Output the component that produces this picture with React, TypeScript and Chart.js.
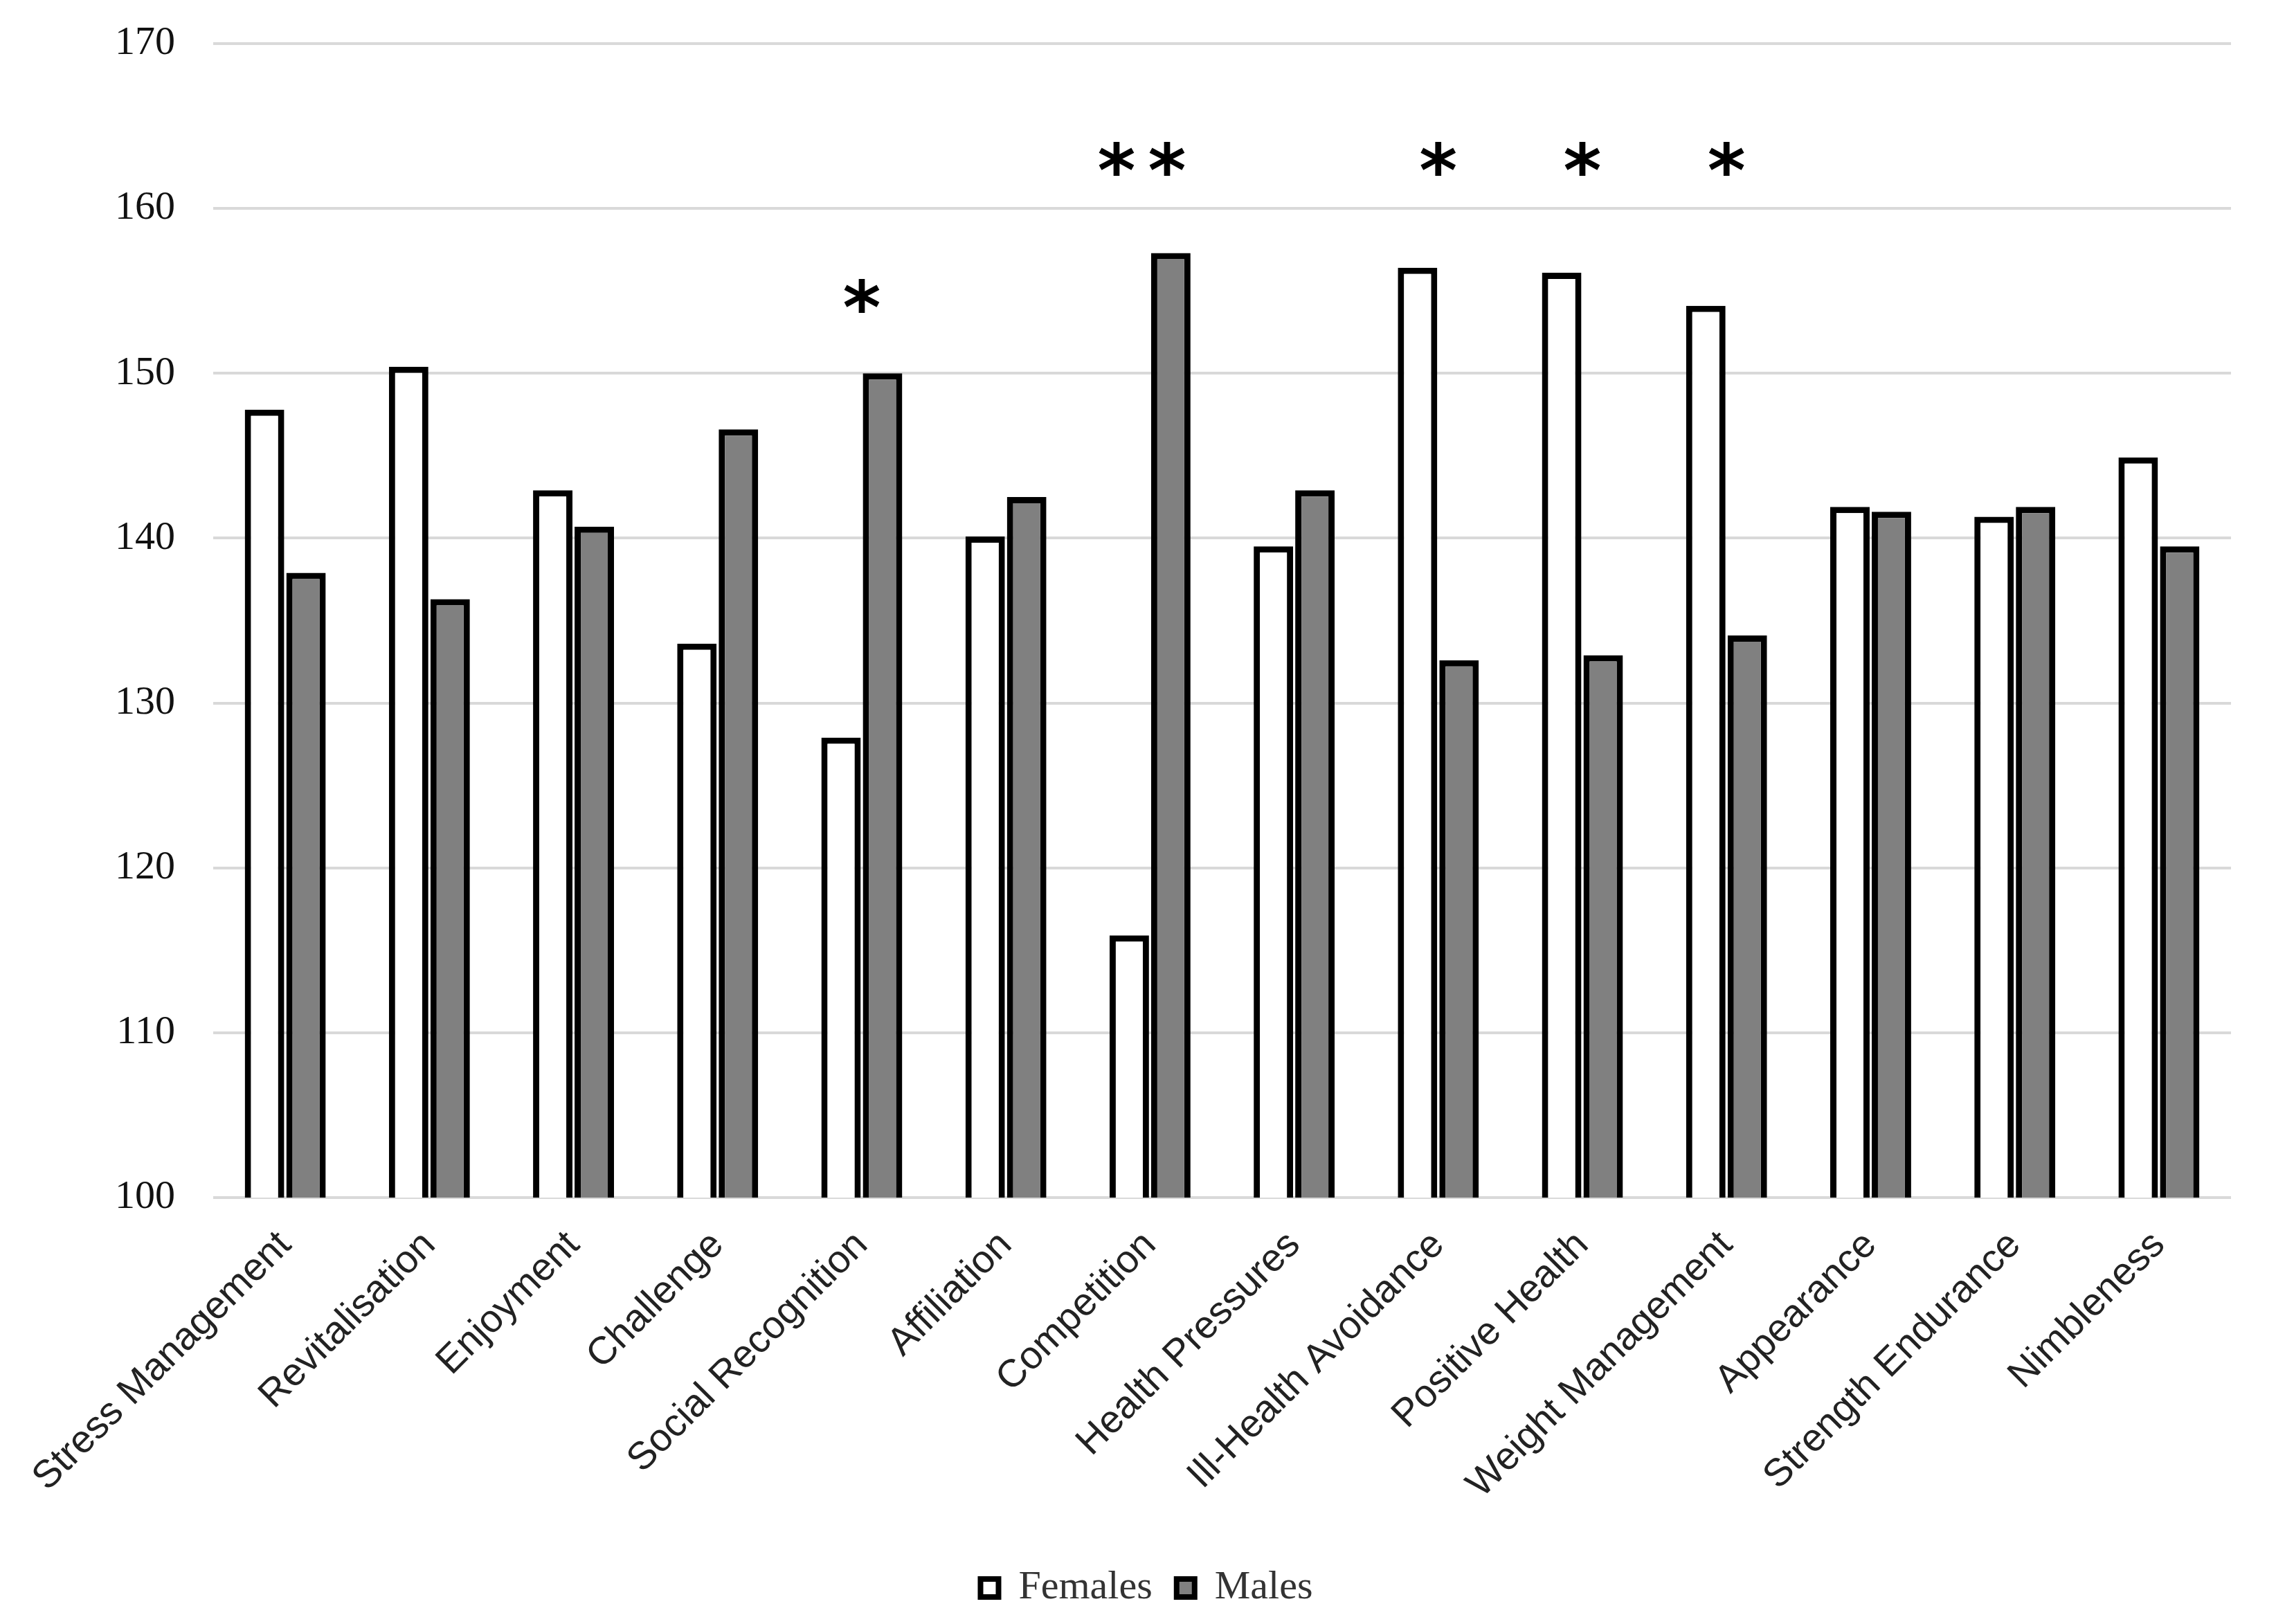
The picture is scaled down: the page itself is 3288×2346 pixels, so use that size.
import React, { useEffect, useRef } from "react";
import { Chart, registerables } from "chart.js";

Chart.register(...registerables);

const categories = [
  "Stress Management",
  "Revitalisation",
  "Enjoyment",
  "Challenge",
  "Social Recognition",
  "Affiliation",
  "Competition",
  "Health Pressures",
  "Ill-Health Avoidance",
  "Positive Health",
  "Weight Management",
  "Appearance",
  "Strength Endurance",
  "Nimbleness",
];

const females = [147.8, 150.4, 142.9, 133.6, 127.9, 140.1, 115.9, 139.5, 156.4, 156.1, 154.1, 141.9, 141.3, 144.9];
const males = [137.9, 136.3, 140.7, 146.6, 150.0, 142.5, 157.3, 142.9, 132.6, 132.9, 134.1, 141.6, 141.9, 139.5];

const significance = ["", "", "", "", "*", "", "**", "", "*", "*", "*", "", "", ""];
const significanceLevel = [null, null, null, null, 154.7, null, 163.0, null, 163.0, 163.0, 163.0, null, null, null];

const yMin = 100;
const yMax = 170;
const yStep = 10;

const seriesNames = ["Females", "Males"];

const W = 3288;
const H = 2346;

const sigPlugin = {
  id: "significance",
  afterDatasetsDraw(chart: any) {
    const { ctx, scales } = chart;
    const x = scales.x;
    const y = scales.y;
    ctx.save();
    ctx.font = "bold 105px 'DejaVu Sans'";
    ctx.fillStyle = "#000";
    ctx.textAlign = "center";
    ctx.textBaseline = "alphabetic";
    const m = ctx.measureText("*");
    const off = (m.actualBoundingBoxAscent - m.actualBoundingBoxDescent) / 2;
    significance.forEach((s, i) => {
      const lvl = significanceLevel[i];
      if (!s || lvl == null) return;
      const cx = x.getPixelForValue(i);
      const cy = y.getPixelForValue(lvl);
      const n = s.length;
      for (let k = 0; k < n; k++) {
        const dx = (k - (n - 1) / 2) * 73 - (n > 1 ? 12 : 0);
        ctx.fillText("*", cx + dx, cy + off);
      }
    });
    ctx.restore();
  },
};

export default function App() {
  const ref = useRef<HTMLCanvasElement | null>(null);

  useEffect(() => {
    const canvas = ref.current;
    if (!canvas) return;
    const chart = new Chart(canvas, {
      type: "bar",
      data: {
        labels: categories,
        datasets: [
          {
            label: seriesNames[0],
            data: females,
            backgroundColor: "#ffffff",
            borderColor: "#000000",
            borderWidth: 9,
            categoryPercentage: 0.576,
            barPercentage: 0.95,
          },
          {
            label: seriesNames[1],
            data: males,
            backgroundColor: "#808080",
            borderColor: "#000000",
            borderWidth: 9,
            categoryPercentage: 0.576,
            barPercentage: 0.95,
          },
        ],
      },
      options: {
        responsive: false,
        animation: false,
        devicePixelRatio: 1,
        layout: { padding: { top: 63, right: 65, bottom: 13, left: 90 } },
        plugins: {
          tooltip: { enabled: false },
          legend: {
            position: "bottom",
            labels: {
              font: { family: "'Liberation Serif'", size: 58 },
              color: "#333333",
              boxWidth: 26,
              boxHeight: 26,
              padding: 35,
              generateLabels(c: any) {
                const items = (Chart as any).defaults.plugins.legend.labels.generateLabels(c);
                return items.map((it: any) => ({ ...it, lineWidth: 8, strokeStyle: "#000000" }));
              },
            },
          },
        },
        scales: {
          x: {
            grid: { display: false },
            border: { display: false },
            ticks: {
              autoSkip: false,
              maxRotation: 45,
              minRotation: 45,
              padding: 28,
              color: "#222222",
              font: { family: "'Liberation Sans'", size: 56 },
            },
            afterFit(scale: any) {
              scale.height = 500;
            },
          },
          y: {
            min: yMin,
            max: yMax,
            ticks: {
              stepSize: yStep,
              padding: 55,
              color: "#111111",
              font: { family: "'Liberation Serif'", size: 58 },
            },
            grid: { color: "#d9d9d9", lineWidth: 4, drawTicks: false },
            border: { display: false },
            afterFit(scale: any) {
              scale.width = 218;
              scale.paddingTop = 0;
              scale.paddingBottom = 0;
            },
          },
        },
      },
      plugins: [sigPlugin],
    } as any);
    return () => chart.destroy();
  }, []);

  return (
    <div style={{ position: "fixed", left: 0, top: 0, width: W, height: H, background: "#fff" }}>
      <canvas ref={ref} width={W} height={H} style={{ width: W, height: H, display: "block" }} />
    </div>
  );
}
